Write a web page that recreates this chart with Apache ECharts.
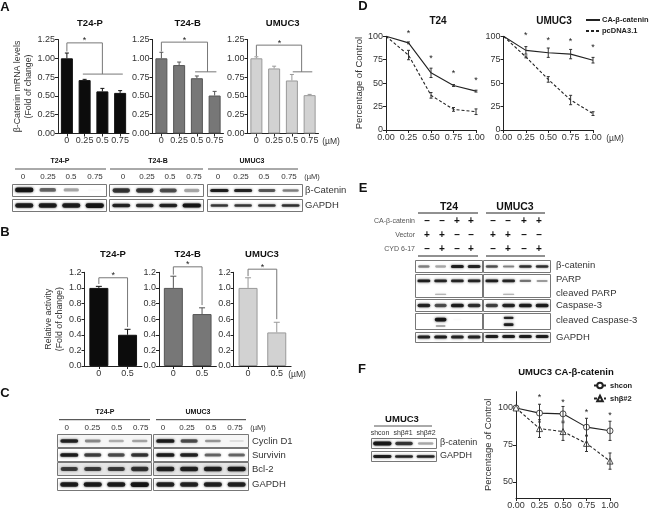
<!DOCTYPE html>
<html><head><meta charset="utf-8">
<style>html,body{margin:0;padding:0;background:#fff}#c{width:650px;height:518px;filter:blur(0.35px)}</style>
<script src="https://cdn.jsdelivr.net/npm/echarts@6/dist/echarts.min.js"></script>
</head><body><div id="c"></div>
<script>
// ---------- chart values ----------
const doseA = ['0','0.25','0.5','0.75'];
const doseB = ['0','0.5'];
const mrnaP = [1.00,0.71,0.56,0.54], mrnaPErr = [0.07,0.01,0.04,0.03];
const mrnaB = [1.00,0.91,0.735,0.505], mrnaBErr = [0.08,0.04,0.03,0.055];
const mrnaU = [1.00,0.865,0.705,0.51], mrnaUErr = [0.02,0.03,0.08,0.01];
const actP = [1.00,0.40], actPErr = [0.02,0.07];
const actB = [1.00,0.665], actBErr = [0.15,0.08];
const actU = [1.00,0.43], actUErr = [0.13,0.13];
const doseD = [0,0.25,0.5,0.75,1];
const d1Solid = [100,93,61,47.5,41.5], d1SolidErr = [0,1,5,1,1];
const d1Dash = [100,80,37,22,19.5], d1DashErr = [0,5,3,2,3];
const d2Solid = [100,85,82.5,81,74.5], d2SolidErr = [0,4,5,5,3];
const d2Dash = [100,78,54,32,17.5], d2DashErr = [0,1,3,5,2];
const d1Stars = [103,76,60,53], d2Stars = [101,96,94,88];
const fCon = [100,96.5,96,87,84.5], fConErr = [0,6,5,6,6.5];
const fSh = [100,86,84,76,64], fShErr = [0,6,6,5.5,5.5];
const fStars = [106.8,104,97,95];
const fTicks = [50,75,100];
// blot band intensities
const aCatP=[1,.6,.35,.02], aCatB=[.8,.8,.7,.35], aCatU=[.95,.9,.65,.5];
const aGapP=[.95,.95,.95,1], aGapB=[.9,.85,.9,1], aGapU=[.8,.8,.8,.85];
const cCycP=[.9,.45,.3,.35], cCycU=[.95,.7,.4,.1];
const cSurP=[.95,.75,.7,.8], cSurU=[.95,.9,.6,.6];
const cBclP=[.75,.75,.75,.8], cBclU=[.9,.9,.9,.95];
const cGapP=[.95,.95,.95,1], cGapU=[.9,.9,.9,.9];
const eCatT=[.5,.35,.95,.9], eCatU=[.7,.5,.85,.85];
const eParT=[.95,.9,.9,.9], eParU=[.95,.9,.55,.4];
const eClvT=[0,.4,0,0], eClvU=[0,.4,0,0];
const eCasT=[.9,.7,.95,.85], eCasU=[.75,.9,.95,.95];
const eCc1T=[0,1,.02,0], eCc1U=[0,.9,0,0];
const eCc2T=[0,.35,0,0], eCc2U=[0,.95,0,0];
const eGapT=[.9,.95,.9,.9], eGapU=[.95,.95,.95,.95];
const fCat=[.98,.8,.35], fGap=[.95,.9,.9];

// ---------- builders ----------
const FONT='"Liberation Sans",Arial,sans-serif', INK='#333';
const grid=[],xAxis=[],yAxis=[],series=[],graphic=[];
const fmt=d=>v=>v.toFixed(d);
function txt(text,x,y,size,opt={}){
  graphic.push({type:'text',x,y,silent:true,rotation:opt.rot||0,style:{text,x:0,y:0,
    font:(opt.bold?'bold ':'')+size+'px '+FONT,fill:opt.fill||INK,
    textAlign:opt.align||'center',textVerticalAlign:'middle'}});
}
function rule(x1,x2,y,w=1,c='#333'){
  graphic.push({type:'line',silent:true,shape:{x1,y1:y,x2,y2:y},style:{stroke:c,lineWidth:w}});
}
function addGrid(g,x,y){const i=grid.length;grid.push(g);x.gridIndex=i;y.gridIndex=i;xAxis.push(x);yAxis.push(y);return i;}
const axisBase={axisLine:{show:true,onZero:false,lineStyle:{color:'#222',width:1}},
  axisTick:{show:true,length:3,lineStyle:{color:'#222'}},splitLine:{show:false}};
const lbl=(o={})=>Object.assign({color:INK,fontSize:9,fontFamily:FONT,margin:3,hideOverlap:false,interval:0},o);

function errorsSeries(i,x,vals,errs,color,cap,up){
  series.push({type:'custom',xAxisIndex:i,yAxisIndex:i,silent:true,z:up?1:4,
    data:vals.map((v,k)=>[x?x[k]:k,v,errs[k]]),encode:{x:0,y:1},
    renderItem(p,api){
      const X=api.value(0),v=api.value(1),e=api.value(2);
      if(!e)return null;
      const a=api.coord([X,up?v:v-e]),b=api.coord([X,v+e]);
      const st={stroke:color,lineWidth:1};
      const ch=[{type:'line',shape:{x1:a[0],y1:a[1],x2:b[0],y2:b[1]},style:st},
        {type:'line',shape:{x1:b[0]-cap,y1:b[1],x2:b[0]+cap,y2:b[1]},style:st}];
      if(!up)ch.push({type:'line',shape:{x1:a[0]-cap,y1:a[1],x2:a[0]+cap,y2:a[1]},style:st});
      return {type:'group',children:ch};
    }});
}
function bracketSeries(i,b){
  series.push({type:'custom',xAxisIndex:i,yAxisIndex:i,silent:true,z:5,data:[[0,b.top]],encode:{x:0,y:1},
    renderItem(p,api){
      const o=api.coord([0,0])[0],w=api.size([1,0])[0];
      const X=f=>o+w*f, Y=v=>api.coord([0,v])[1];
      const st={stroke:'#777',lineWidth:1};
      const ln=(x1,y1,x2,y2)=>({type:'line',shape:{x1,y1,x2,y2},style:st});
      const ch=[ln(X(0),Y(b.top),X(b.right),Y(b.top)),ln(X(0),Y(b.top),X(0),Y(b.ld)),ln(X(b.right),Y(b.top),X(b.right),Y(b.rd))];
      if(b.h)ch.push(ln(X(b.h[0]),Y(b.rd),X(b.h[1]),Y(b.rd)));
      ch.push({type:'text',style:{text:'*',x:X(b.star),y:Y(b.top)-2,font:'9px '+FONT,fill:'#222',textAlign:'center',textVerticalAlign:'middle'}});
      return {type:'group',children:ch};
    }});
}
function barChart(g,cats,vals,errs,style,yc,br,name){
  const i=addGrid(g,
    Object.assign({type:'category',data:cats},axisBase,{axisTick:{show:true,alignWithLabel:true,length:3,lineStyle:{color:'#222'}},axisLabel:lbl()}),
    Object.assign({type:'value',min:0,max:yc.max,interval:yc.step},axisBase,{axisLabel:lbl({formatter:fmt(yc.dec)})},
      name?{name,nameLocation:'middle',nameGap:yc.gap,nameRotate:90,nameTextStyle:{color:INK,fontSize:8.8,fontFamily:FONT,lineHeight:11}}:{}));
  series.push({type:'bar',xAxisIndex:i,yAxisIndex:i,data:vals,barWidth:style.w,silent:true,z:2,
    itemStyle:{color:style.fill,borderColor:style.border,borderWidth:1}});
  errorsSeries(i,null,vals,errs,style.border,style.cap,true);
  bracketSeries(i,br);
}
function lineChart(g,lines,stars,yc,name){
  const y=Object.assign({type:'value',min:yc.min,max:yc.max},axisBase,{axisLabel:lbl()});
  if(yc.step)y.interval=yc.step;
  if(yc.custom){y.axisLabel.customValues=yc.custom;y.axisTick=Object.assign({},axisBase.axisTick,{customValues:yc.custom});}
  if(name)Object.assign(y,{name,nameLocation:'middle',nameGap:yc.gap,nameRotate:90,nameTextStyle:{color:INK,fontSize:9.5,fontFamily:FONT}});
  const i=addGrid(g,Object.assign({type:'value',min:0,max:1,interval:.25},axisBase,{axisLabel:lbl({formatter:fmt(2)})}),y);
  lines.forEach(l=>{
    series.push({type:'line',name:l.name,xAxisIndex:i,yAxisIndex:i,data:doseD.map((d,k)=>[d,l.vals[k]]),
      symbol:l.symbol||'none',symbolSize:l.size||0,showSymbol:!!l.symbol,silent:true,z:3,
      lineStyle:{color:'#222',width:1.1,type:l.dash?[3,2]:'solid'},
      itemStyle:l.symbol?{color:'#fff',borderColor:'#222',borderWidth:.8}:{color:'rgba(0,0,0,0)',borderColor:'rgba(0,0,0,0)',borderWidth:0}});
    errorsSeries(i,doseD,l.vals,l.errs,'#333',1.5,false);
  });
  series.push({type:'custom',xAxisIndex:i,yAxisIndex:i,silent:true,z:5,
    data:stars.map((v,k)=>[doseD[k+1],v]),encode:{x:0,y:1},
    renderItem(p,api){const c=api.coord([api.value(0),api.value(1)]);
      return {type:'text',style:{text:'*',x:c[0],y:c[1],font:'9px '+FONT,fill:'#222',textAlign:'center',textVerticalAlign:'middle'}};}});
}
function blot(box,rows){
  const n=rows[0].v.length;
  const i=addGrid({left:box[0]+.5,top:box[1]+.5,width:box[2]-box[0],height:box[3]-box[1],show:true,borderColor:'#777',borderWidth:1,backgroundColor:box[4]||'#fff'},
    {type:'category',show:false,data:Array.from({length:n},(_,k)=>k)},
    {type:'value',show:false,min:0,max:1});
  rows.forEach(r=>{
    series.push({type:'custom',xAxisIndex:i,yAxisIndex:i,silent:true,z:2,
      data:r.v.map((a,k)=>[k,r.y,a]),encode:{x:0,y:1},
      renderItem(p,api){
        const a=api.value(2);if(a<.01)return null;
        const c=api.coord([api.value(0),api.value(1)]),lane=api.size([1,0])[0];
        const w=lane*(r.w||.78)*(.75+.25*a),h=(r.h||4)*(.5+.45*a);
        const col='rgba(15,15,15,'+(a*.92).toFixed(2)+')';
        return {type:'rect',shape:{x:c[0]-w/2,y:c[1]-h/2,width:w,height:h,r:h/2},
          style:{fill:col,shadowBlur:2.5,shadowColor:col}};
      }});
  });
}

// ---------- panel letters ----------
[['A',5,7],['B',5,232],['C',5,393],['D',363,6],['E',363,188],['F',362,369]].forEach(a=>txt(a[0],a[1],a[2],13,{bold:1,fill:'#111'}));

// ---------- panel A bars ----------
const ya={max:1.25,step:.25,dec:2,gap:23},sK={fill:'#0c0c0c',border:'#111',w:12,cap:2},sG={fill:'#777',border:'#555',w:12,cap:2},sL={fill:'#d2d2d2',border:'#999',w:12,cap:2};
const gA=l=>({left:l,top:39.5,width:71,height:94});
barChart(gA(58),doseA,mrnaP,mrnaPErr,sK,ya,{top:1.205,ld:1.09,right:2,rd:.79,h:[.9,3.15],star:1},'β-Catenin mRNA levels\n(Fold of change)');
barChart(gA(152.5),doseA,mrnaB,mrnaBErr,sG,ya,{top:1.215,ld:1.09,right:2.6,rd:.82,h:[1.9,3.1],star:1.3});
barChart(gA(247.5),doseA,mrnaU,mrnaUErr,sL,ya,{top:1.175,ld:1.03,right:2.55,rd:.82,h:[2.05,3.15],star:1.3});
[['T24-P',90],['T24-B',187.7],['UMUC3',282.7]].forEach(t=>txt(t[0],t[1],23,9.5,{bold:1,fill:'#111'}));
txt('(µM)',331,142,8.5);

// ---------- panel A blots ----------
[['T24-P',60,15,106],['T24-B',158,110,203],['UMUC3',252,208,298]].forEach(t=>{txt(t[0],t[1],161,7,{bold:1,fill:'#111'});rule(t[2],t[3],169,1,'#555');});
[[23,48,71,95],[123,147,170,194],[218,241,264,289]].forEach(xs=>xs.forEach((x,k)=>txt(doseA[k],x,177,8)));
txt('(µM)',312,177,7.5);
blot([12,184,106,196],[{v:aCatP,y:.55,h:5}]);blot([109,184,203,196],[{v:aCatB,y:.5,h:5}]);blot([207,184,302,196],[{v:aCatU,y:.5,h:3.5}]);
blot([12,199,106,211],[{v:aGapP,y:.5,h:5}]);blot([109,199,203,211],[{v:aGapB,y:.5,h:4}]);blot([207,199,302,211],[{v:aGapU,y:.5,h:3}]);
txt('β-Catenin',305,190,9.5,{align:'left'});txt('GAPDH',305,205,9.5,{align:'left'});

// ---------- panel B bars ----------
const yb={max:1.2,step:.2,dec:1,gap:17},bw={w:19,cap:3};
const gB=l=>({left:l,top:272.3,width:57.4,height:93.7});
barChart(gB(84.5),doseB,actP,actPErr,Object.assign({},sK,bw),yb,{top:1.13,ld:1.05,right:1,rd:.5,star:.5},'Relative activity\n(Fold of change)');
barChart(gB(159),doseB,actB,actBErr,Object.assign({},sG,bw),yb,{top:1.27,ld:1.17,right:1,rd:.78,star:.5});
barChart(gB(233.7),doseB,actU,actUErr,Object.assign({},sL,bw),yb,{top:1.24,ld:1.15,right:1,rd:.6,star:.5});
[['T24-P',113],['T24-B',187.7],['UMUC3',262]].forEach(t=>txt(t[0],t[1],254,9.5,{bold:1,fill:'#111'}));
txt('(µM)',297,375,8.5);

// ---------- panel C ----------
[['T24-P',105,59,150],['UMUC3',198,156,246]].forEach(t=>{txt(t[0],t[1],412,7,{bold:1,fill:'#111'});rule(t[2],t[3],419.7,1,'#333');});
[[66.7,92.3,116.7,140.7],[163,187,211,235]].forEach(xs=>xs.forEach((x,k)=>txt(doseA[k],x,428,8)));
txt('(µM)',258,428,7.5);
[[434,447,cCycP,cCycU,'Cyclin D1',441,'#f6f6f6',4],[448,461,cSurP,cSurU,'Survivin',455,'#fff',4],[462,475,cBclP,cBclU,'Bcl-2',469,'#e6e6e6',5],[478,490,cGapP,cGapU,'GAPDH',484,'#fff',5]].forEach(r=>{
  blot([57,r[0],151,r[1],r[6]],[{v:r[2],y:.5,h:r[7]}]);
  blot([153,r[0],248,r[1],r[6]],[{v:r[3],y:.5,h:r[7]}]);
  txt(r[4],252,r[5],9.5,{align:'left'});
});

// ---------- panel D ----------
const yd={min:0,max:100,step:25,gap:21};
lineChart({left:386,top:36.3,width:90,height:93.7},
  [{name:'CA-β-catenin',vals:d1Solid,errs:d1SolidErr},{name:'pcDNA3.1',vals:d1Dash,errs:d1DashErr,dash:1}],d1Stars,yd,'Percentage of Control');
lineChart({left:503.5,top:36.3,width:89.5,height:93.7},
  [{name:'CA-β-catenin',vals:d2Solid,errs:d2SolidErr},{name:'pcDNA3.1',vals:d2Dash,errs:d2DashErr,dash:1}],d2Stars,yd);
txt('T24',438,21,10,{bold:1,fill:'#111'});txt('UMUC3',554,21,10,{bold:1,fill:'#111'});
txt('(µM)',615,139,8.5);

// ---------- panel E ----------
[['T24',449,418,478],['UMUC3',515,486,545]].forEach(t=>{txt(t[0],t[1],207,10.5,{bold:1,fill:'#111'});rule(t[2],t[3],213,1,'#222');rule(t[2],t[3],256,1,'#222');});
const eMarks=[['CA-β-catenin',221,'––++'],['Vector',235,'++––'],['CYD 6-17',249,'–+–+']];
const eT=[427,442,457,471],eU=[493,508,524,539];
eMarks.forEach(m=>{txt(m[0],415,m[1],7,{align:'right',fill:'#555'});
  [...m[2]].forEach((c,k)=>{txt(c,eT[k],m[1],10,{bold:1,fill:'#111'});txt(c,eU[k],m[1],10,{bold:1,fill:'#111'});});});
const eCols=[[415,482],[483,550]];
function eRow(t,b,rowsT,rowsU){blot([eCols[0][0],t,eCols[0][1],b],rowsT);blot([eCols[1][0],t,eCols[1][1],b],rowsU);}
eRow(260,272,[{v:eCatT,y:.5,h:3.5}],[{v:eCatU,y:.5,h:3}]);
eRow(274,297,[{v:eParT,y:.72,h:3},{v:eClvT,y:.14,h:1.5}],[{v:eParU,y:.72,h:3},{v:eClvU,y:.14,h:1.5}]);
eRow(299,311,[{v:eCasT,y:.5,h:4}],[{v:eCasU,y:.5,h:4}]);
eRow(313,329,[{v:eCc1T,y:.62,h:4,w:.7},{v:eCc2T,y:.22,h:3,w:.7}],[{v:eCc1U,y:.72,h:2.5,w:.6},{v:eCc2U,y:.3,h:3,w:.6}]);
eRow(332,342,[{v:eGapT,y:.55,h:3.5}],[{v:eGapU,y:.6,h:3.5}]);
[['β-catenin',265],['PARP',279],['cleaved PARP',293],['Caspase-3',305],['cleaved Caspase-3',320],['GAPDH',337]].forEach(l=>txt(l[0],556,l[1],9.5,{align:'left'}));

// ---------- panel F ----------
txt('UMUC3',402,419,9.5,{bold:1,fill:'#111'});rule(374,432,426,1,'#555');
[['shcon',380],['shβ#1',403],['shβ#2',426]].forEach(l=>txt(l[0],l[1],433,7));
blot([371,438,436,448],[{v:fCat,y:.5,h:4,w:.85}]);
blot([371,451,436,461],[{v:fGap,y:.5,h:3,w:.85}]);
txt('β-catenin',440,443,9,{align:'left'});txt('GAPDH',440,456,9,{align:'left'});
lineChart({left:516,top:391.7,width:94,height:106.3},
  [{name:'shcon',vals:fCon,errs:fConErr,symbol:'circle',size:6},{name:'shβ#2',vals:fSh,errs:fShErr,symbol:'triangle',size:6,dash:1}],fStars,
  {min:39,max:111,custom:fTicks,gap:23},'Percentage of Control');
txt('UMUC3 CA-β-catenin',566,372,9.5,{bold:1,fill:'#111'});

const legendBase={orient:'vertical',padding:0,itemGap:3,selectedMode:false,textStyle:{fontSize:7.5,fontWeight:'bold',fontFamily:FONT,color:'#222',padding:[0,0,0,-3]}};
const legend=[
  Object.assign({},legendBase,{left:585,top:16,itemWidth:14,itemHeight:7,data:['CA-β-catenin','pcDNA3.1']}),
  Object.assign({},legendBase,{left:593,top:381.5,itemGap:5,itemWidth:12,itemHeight:7,textStyle:{fontSize:7.5,fontWeight:'bold',fontFamily:FONT,color:'#222',padding:[0,0,0,-1]},data:['shcon','shβ#2']})
];

const chart=echarts.init(document.getElementById('c'),null,{renderer:'canvas'});
chart.setOption({animation:false,backgroundColor:'#fff',textStyle:{fontFamily:FONT},legend,grid,xAxis,yAxis,series,graphic});
</script></body></html>
